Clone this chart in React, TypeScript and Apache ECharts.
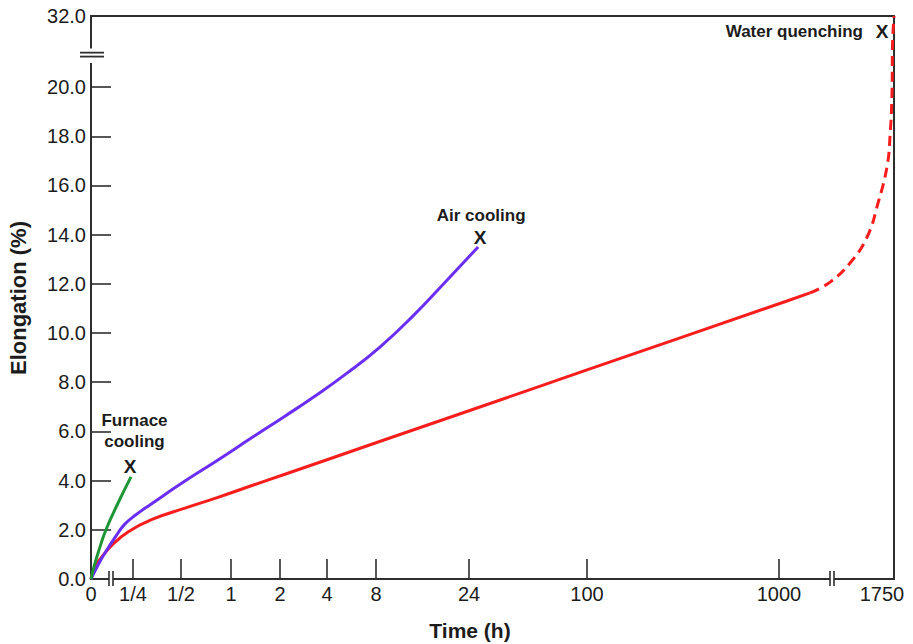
import React, { useEffect, useRef } from 'react';
import * as echarts from 'echarts';

// ---- axis definition (custom broken time axis) ----
const TICK_HOURS = [0, 0.25, 0.5, 1, 2, 4, 8, 24, 100, 1000, 1750];
const TICK_LABELS = ['0', '1/4', '1/2', '1', '2', '4', '8', '24', '100', '1000', '1750'];
const TICK_SLOTS = [0, 42, 90, 140, 189, 236, 285, 378, 496, 688, 803];
const X_BREAK_SLOTS = [20, 741];

// ---- y axis (broken above ~21 %) ----
const Y_TICKS = [2, 4, 6, 8, 10, 12, 14, 16, 18, 20];
const Y_LABELS = [0, 2, 4, 6, 8, 10, 12, 14, 16, 18, 20];
const Y_TOP_VALUE = 32;
const Y_BREAK_AT = 21.3;
const Y_AXIS_TOP = 22.89;

// ---- data: time (h) vs elongation (%) ----
const FURNACE_HOURS = [0, 0.018, 0.042, 0.089, 0.161, 0.238];
const FURNACE_ELONG = [0, 0.5, 1.06, 2.0, 3.09, 4.15];

const AIR_HOURS = [0, 0.042, 0.083, 0.161, 0.2, 0.257, 0.329, 0.528, 0.835, 1.346, 2.15, 3.25, 5.31, 8.38, 12.4, 18.5, 26.8];
const AIR_ELONG = [0, 0.57, 1.06, 1.87, 2.22, 2.58, 3.07, 3.98, 4.84, 5.75, 6.62, 7.38, 8.37, 9.43, 10.7, 12.15, 13.5];

const WATER_HOURS = [0, 0.024, 0.065, 0.125, 0.22, 0.329, 0.528, 0.835, 1.346, 2.15, 4, 8, 24, 100, 1000, 1163];
const WATER_ELONG = [0, 0.5, 0.9, 1.38, 1.91, 2.42, 2.88, 3.32, 3.8, 4.26, 4.85, 5.54, 6.84, 8.5, 11.19, 11.63];

const WATER_EXT_HOURS = [1163, 1282, 1413, 1535, 1619, 1691, 1716, 1733, 1738, 1750];
const WATER_EXT_ELONG = [11.63, 12.07, 12.85, 13.9, 15.28, 16.75, 17.97, 19.76, 24.7, 32];

const FONT = "'Liberation Sans', Arial, Helvetica, sans-serif";
const AXIS_COLOR = '#2e2e2e';
const TEXT_COLOR = '#1c1c1c';

function hoursToSlot(h: number): number {
  for (let i = 0; i < TICK_HOURS.length - 1; i++) {
    const h0 = TICK_HOURS[i];
    const h1 = TICK_HOURS[i + 1];
    if (h <= h1 || i === TICK_HOURS.length - 2) {
      const s0 = TICK_SLOTS[i];
      const s1 = TICK_SLOTS[i + 1];
      if (i === 0) return s0 + ((s1 - s0) * h) / h1;
      const t = Math.log(h / h0) / Math.log(h1 / h0);
      return s0 + (s1 - s0) * t;
    }
  }
  return TICK_SLOTS[TICK_SLOTS.length - 1];
}

function yDisp(v: number): number {
  if (v <= Y_BREAK_AT) return v;
  return Y_BREAK_AT + ((v - Y_BREAK_AT) * (Y_AXIS_TOP - Y_BREAK_AT)) / (Y_TOP_VALUE - Y_BREAK_AT);
}

function toPoints(hours: number[], elong: number[]) {
  return hours.map((h, i) => [hoursToSlot(h), yDisp(elong[i])]);
}

export default function App() {
  const ref = useRef<HTMLDivElement>(null);

  useEffect(() => {
    const el = ref.current;
    if (!el) return;
    const chart = echarts.init(el, undefined, { renderer: 'svg' });

    const furnace = toPoints(FURNACE_HOURS, FURNACE_ELONG);
    const air = toPoints(AIR_HOURS, AIR_ELONG);
    const water = toPoints(WATER_HOURS, WATER_ELONG);
    const waterExt = toPoints(WATER_EXT_HOURS, WATER_EXT_ELONG);

    const xMax = TICK_SLOTS[TICK_SLOTS.length - 1];
    const labelStyle = { fontFamily: FONT, fontSize: 20, color: TEXT_COLOR };
    const frameLine = { show: true, onZero: false, lineStyle: { color: AXIS_COLOR, width: 2 } };

    chart.setOption({
      animation: false,
      backgroundColor: '#ffffff',
      grid: { left: 91, right: 19, top: 16, bottom: 65, containLabel: false, outerBoundsMode: 'none' },
      xAxis: [
        {
          type: 'value',
          min: 0,
          max: xMax,
          position: 'bottom',
          splitLine: { show: false },
          axisLine: frameLine,
          axisTick: {
            show: true,
            inside: true,
            length: 20,
            customValues: TICK_SLOTS.slice(1, -1),
            lineStyle: { color: AXIS_COLOR, width: 1.6 },
          },
          axisLabel: {
            ...labelStyle,
            margin: 5,
            customValues: TICK_SLOTS,
            formatter: (v: number) => {
              const i = TICK_SLOTS.indexOf(Math.round(v));
              if (i < 0) return '';
              if (i === TICK_SLOTS.length - 1) return '{last|' + TICK_LABELS[i] + '}';
              return TICK_LABELS[i];
            },
            rich: { last: { ...labelStyle, padding: [0, 24, 0, 0] } },
          },
        },
        {
          type: 'value',
          min: 0,
          max: xMax,
          position: 'top',
          splitLine: { show: false },
          axisLine: frameLine,
          axisTick: { show: false },
          axisLabel: { show: false },
        },
      ],
      yAxis: [
        {
          type: 'value',
          min: 0,
          max: Y_AXIS_TOP,
          position: 'left',
          splitLine: { show: false },
          axisLine: frameLine,
          axisTick: {
            show: true,
            inside: true,
            length: 20,
            customValues: Y_TICKS,
            lineStyle: { color: AXIS_COLOR, width: 1.6 },
          },
          axisLabel: {
            ...labelStyle,
            margin: 5,
            customValues: [...Y_LABELS, Y_AXIS_TOP],
            formatter: (v: number) => (v > Y_BREAK_AT ? Y_TOP_VALUE.toFixed(1) : v.toFixed(1)),
          },
        },
        {
          type: 'value',
          min: 0,
          max: Y_AXIS_TOP,
          position: 'right',
          splitLine: { show: false },
          axisLine: frameLine,
          axisTick: { show: false },
          axisLabel: { show: false },
        },
      ],
      series: [
        {
          name: 'Water quenching',
          type: 'line',
          data: water,
          showSymbol: false,
          smooth: 0.45,
          lineStyle: { color: '#f81d1d', width: 3 },
          z: 3,
        },
        {
          name: 'Water quenching (extrapolated)',
          type: 'line',
          data: waterExt,
          showSymbol: false,
          smooth: 0.45,
          lineStyle: { color: '#f81d1d', width: 3, type: [10, 6] },
          z: 3,
        },
        {
          name: 'Air cooling',
          type: 'line',
          data: air,
          showSymbol: false,
          smooth: 0.5,
          lineStyle: { color: '#6a2ef5', width: 3 },
          z: 4,
        },
        {
          name: 'Furnace cooling',
          type: 'line',
          data: furnace,
          showSymbol: false,
          smooth: 0.45,
          lineStyle: { color: '#1f9636', width: 3 },
          z: 5,
        },
      ],
    });

    const px = (p: number[]) => chart.convertToPixel({ xAxisIndex: 0, yAxisIndex: 0 }, p) as number[];
    const graphics: any[] = [];
    const annot = (text: string, x: number, y: number, align = 'center', size = 17) => ({
      type: 'text',
      x,
      y,
      z: 100,
      style: {
        text,
        fill: TEXT_COLOR,
        fontFamily: FONT,
        fontSize: size,
        fontWeight: 'bold',
        align,
        verticalAlign: 'middle',
        textAlign: align,
        textVerticalAlign: 'middle',
      },
    });

    // y-axis break
    const [ax0] = px([0, 0]);
    const yg1 = px([0, Y_BREAK_AT - 0.32])[1];
    const yg2 = px([0, Y_BREAK_AT + 0.27])[1];
    graphics.push({ type: 'rect', z: 90, shape: { x: ax0 - 3, y: yg2, width: 6, height: yg1 - yg2 }, style: { fill: '#ffffff' } });
    [Y_BREAK_AT - 0.06, Y_BREAK_AT + 0.1].forEach((v) => {
      const yy = px([0, v])[1];
      graphics.push({ type: 'line', z: 95, shape: { x1: ax0 - 11, y1: yy, x2: ax0 + 13, y2: yy }, style: { stroke: AXIS_COLOR, lineWidth: 1.8 } });
    });

    // x-axis breaks
    X_BREAK_SLOTS.forEach((s) => {
      const [cx, cy] = px([s, 0]);
      graphics.push({ type: 'rect', z: 90, shape: { x: cx - 2, y: cy - 2, width: 4, height: 4 }, style: { fill: '#ffffff' } });
      [cx - 2, cx + 2].forEach((xx) => {
        graphics.push({ type: 'line', z: 95, shape: { x1: xx, y1: cy - 8, x2: xx, y2: cy + 7 }, style: { stroke: AXIS_COLOR, lineWidth: 1.6 } });
      });
    });

    // annotations at fracture points
    const fEnd = px(furnace[furnace.length - 1]);
    graphics.push(annot('X', fEnd[0] - 1, fEnd[1] - 10, 'center', 19));
    graphics.push(annot('cooling', fEnd[0] + 3.5, fEnd[1] - 35));
    graphics.push(annot('Furnace', fEnd[0] + 3.5, fEnd[1] - 56));

    const aEnd = px(air[air.length - 1]);
    graphics.push(annot('X', aEnd[0] + 2, aEnd[1] - 9, 'center', 19));
    graphics.push(annot('Air cooling', aEnd[0] + 3, aEnd[1] - 31));

    const wEnd = px(waterExt[waterExt.length - 1]);
    graphics.push(annot('X', wEnd[0] - 12, wEnd[1] + 15, 'center', 19));
    graphics.push(annot('Water quenching', wEnd[0] - 31, wEnd[1] + 15, 'right'));

    // axis titles
    graphics.push({
      type: 'text',
      x: 18,
      y: 298,
      rotation: Math.PI / 2,
      z: 100,
      style: {
        text: 'Elongation (%)',
        fill: TEXT_COLOR,
        fontFamily: FONT,
        fontSize: 22,
        fontWeight: 'bold',
        align: 'center',
        verticalAlign: 'middle',
        textAlign: 'center',
        textVerticalAlign: 'middle',
      },
    });
    graphics.push(annot('Time (h)', 470, 630, 'center', 21));

    chart.setOption({ graphic: graphics });

    return () => chart.dispose();
  }, []);

  return <div ref={ref} style={{ position: 'fixed', left: 0, top: 0, width: 913, height: 644 }} />;
}
